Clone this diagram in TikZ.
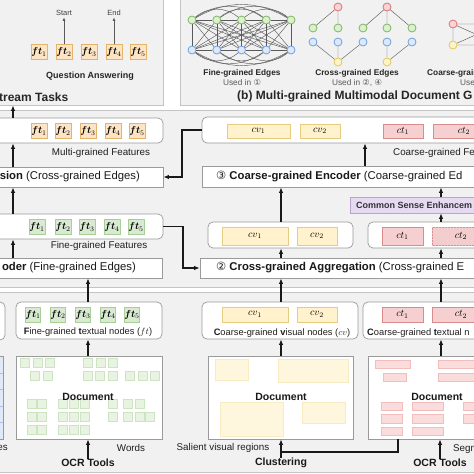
\documentclass[tikz,border=0pt]{standalone}
\usepackage{amsmath}
\usepackage{bm}
\usepackage{fontspec}
\setmainfont{Liberation Sans}
\newfontfamily\djv{DejaVu Sans}
\usetikzlibrary{arrows.meta,patterns}
\definecolor{panelbg}{HTML}{F1F1F1}
\definecolor{panelln}{HTML}{C4C4C4}
\definecolor{boxln}{HTML}{9A9A9A}
\definecolor{ftOfill}{HTML}{FCE4C4}
\definecolor{ftOline}{HTML}{E3B46A}
\definecolor{ftGfill}{HTML}{D9EAD3}
\definecolor{ftGline}{HTML}{A8CF95}
\definecolor{cvfill}{HTML}{FFF2CC}
\definecolor{cvline}{HTML}{E6CC80}
\definecolor{ctfill}{HTML}{F6D0D0}
\definecolor{ctline}{HTML}{D98C8C}
\definecolor{csefill}{HTML}{E6DAF2}
\definecolor{cseline}{HTML}{B9A3D3}
\definecolor{sqfill}{HTML}{E8F3E2}
\definecolor{sqline}{HTML}{CDE4C2}
\definecolor{yrfill}{HTML}{FFF7DD}
\definecolor{yrline}{HTML}{F7EBC3}
\definecolor{prfill}{HTML}{FADCDC}
\definecolor{prline}{HTML}{F2BDBD}
\definecolor{bdfill}{HTML}{DFE9F8}
\definecolor{bdline}{HTML}{A9C0E4}
\definecolor{gline}{HTML}{5A5A5A}
\definecolor{nGl}{HTML}{7DB85B}\definecolor{nGf}{HTML}{DCEFD2}
\definecolor{nBl}{HTML}{6FA0E0}\definecolor{nBf}{HTML}{DDE8F8}
\definecolor{nRl}{HTML}{E07070}\definecolor{nRf}{HTML}{F8D5D5}
\definecolor{nYl}{HTML}{E5C55A}\definecolor{nYf}{HTML}{FFF3C8}
\tikzset{
  panel/.style={draw=panelln, fill=panelbg, line width=0.7pt, inner sep=0pt},
  wbox/.style={draw=boxln, fill=white, line width=0.7pt, inner sep=0pt},
  cont/.style={draw=boxln, fill=white, rounded corners=5pt, line width=0.7pt, inner sep=0pt},
  ftO/.style={draw=ftOline, fill=ftOfill, line width=0.6pt, minimum width=16pt, minimum height=15pt, inner sep=0pt, font=\fontsize{10}{12}\selectfont},
  ftG/.style={ftO, draw=ftGline, fill=ftGfill},
  cvb/.style={draw=cvline, fill=cvfill, line width=0.6pt, inner sep=0pt, font=\fontsize{10}{12}\selectfont},
  ctb/.style={cvb, draw=ctline, fill=ctfill},
  ctbh/.style={ctb, postaction={pattern=north east lines, pattern color=ctline!45}},
  cseb/.style={draw=cseline, fill=csefill, line width=0.6pt, inner sep=0pt},
  bluedoc/.style={draw=boxln, fill=bdfill, line width=0.7pt, inner sep=0pt},
  arr/.style={-{Latex[length=5.5pt,width=4.5pt]}, line width=1.2pt, black!90},
  pline/.style={line width=1.2pt, black!90},
  garr/.style={-{Latex[length=3.5pt,width=3pt]}, line width=0.7pt, gline},
  lbl/.style={font=\fontsize{9.8}{11}\selectfont, inner sep=0pt, text=black!88},
  blbl/.style={font=\bfseries\fontsize{10.5}{12}\selectfont, inner sep=0pt, text=black!90},
  ttl/.style={font=\bfseries\fontsize{12}{14}\selectfont, inner sep=0pt, text=black!85},
  btxt/.style={font=\fontsize{11.3}{13}\selectfont, inner sep=0pt, text=black!90},
  small/.style={font=\fontsize{8.3}{10}\selectfont, inner sep=0pt},
  bsmall/.style={font=\bfseries\fontsize{8.3}{10}\selectfont, inner sep=0pt, text=black!85},
  gn/.style={circle, minimum size=8pt, inner sep=0pt, line width=0.8pt},
  gG/.style={gn, draw=nGl, fill=nGf},
  gB/.style={gn, draw=nBl, fill=nBf},
  gR/.style={gn, draw=nRl, fill=nRf},
  gY/.style={gn, draw=nYl, fill=nYf},
  edge/.style={gline, line width=0.45pt},
  sq/.style={draw=sqline, fill=sqfill, line width=0.5pt},
  yr/.style={draw=yrline, fill=yrfill, line width=0.5pt},
  pr/.style={draw=prline, fill=prfill, line width=0.5pt},
}
\newcommand{\bx}[7]{\node[#2, minimum width={(#5)-(#3)}, minimum height={(#6)-(#4)}] (#1) at ({((#3)+(#5))/2},{((#4)+(#6))/2}) {#7};}
\begin{document}
\begin{tikzpicture}[x=1pt,y=-1pt]
\useasboundingbox (0,0) rectangle (474,474);
\clip (0,0) rectangle (474,474);
\fill[white] (0,0) rectangle (474,474);
% panels
\bx{pa}{panel}{-8}{-8}{163}{105}{}
\bx{pb}{panel}{180}{-8}{490}{105}{}
\bx{pc}{panel}{-8}{110}{490}{287}{}
\bx{pd}{panel}{-8}{292}{490}{472}{}
% column coordinates
\coordinate (cA) at (13,0);
\coordinate (cB) at (88,0);
\coordinate (cC) at (281,0);
\coordinate (cD) at (441,0);
\coordinate (cE) at (365,0);
\coordinate (bxa) at (182,0);
\coordinate (bxb) at (183,0);
% ---------- panel a
\foreach \i/\x in {1/39,2/64,3/89,4/114,5/138} \node[ftO] (q\i) at (\x,52) {$\bm{ft}_{\i}$};
\node[inner sep=0pt, font=\fontsize{7.5}{9}\selectfont, text=black!75] (st) at (64,13) {Start};
\node[inner sep=0pt, font=\fontsize{7.5}{9}\selectfont, text=black!75] (en) at (114,13) {End};
\draw[garr] (q2.north) -- ([yshift=-1.5pt]st.south);
\draw[garr] (q4.north) -- ([yshift=-1.5pt]en.south);
\node[inner sep=0pt, font=\bfseries\fontsize{9}{11}\selectfont, text=black!85] (qa) at (90,76) {Question Answering};
\node[ttl, anchor=east] (ta) at (68.5,97) {stream Tasks};
% ---------- panel b
\foreach \i/\x in {1/192,2/216.75,3/241.5,4/266.25,5/291} {
  \node[gG] (fg\i) at (\x,20) {};
  \node[gB] (fb\i) at (\x,50) {};
}
\foreach \i in {1,...,5} \foreach \j in {1,...,5} \draw[edge] (fg\i) -- (fb\j);
\foreach \i/\j in {1/2,2/3,3/4,4/5} {\draw[edge] (fg\i) -- (fg\j); \draw[edge] (fb\i) -- (fb\j);}
\foreach \i/\j/\b in {1/3/40,2/4/40,3/5/40,1/4/35,2/5/35,1/5/30} {\draw[edge] (fg\i) to[bend left=\b] (fg\j); \draw[edge] (fb\i) to[bend right=\b] (fb\j);}
\node[gR] (cr1) at (338,7) {};
\node[gR] (cr2) at (387,7) {};
\foreach \i/\x in {1/313,2/338,3/363,4/387,5/412} {\node[gG] (cg\i) at (\x,28) {}; \node[gB] (cb\i) at (\x,42) {};}
\node[gY] (cy1) at (338,62) {};
\node[gY] (cy2) at (387,62) {};
\draw[edge] (cr1)--(cg1) (cr1)--(cg2) (cr2)--(cg3) (cr2)--(cg4) (cr2)--(cg5)
            (cy1)--(cb1) (cy1)--(cb2) (cy1)--(cb3) (cy2)--(cb4) (cy2)--(cb5);
\node[gR] (kr) at (453,24) {};
\node[gY] (ky) at (453,45) {};
\coordinate (kr2) at (500,24);
\coordinate (ky2) at (500,45);
\draw[edge] (kr)--(ky) (kr)--(kr2) (ky)--(ky2) (kr)--(ky2) (ky)--(kr2);
\node[bsmall] (l1) at (242,73) {Fine-grained Edges};
\node[small, text=black!65] (u1) at (242,82.5) {Used in {\djv ①}};
\node[bsmall] (l2) at (357,73) {Cross-grained Edges};
\node[small, text=black!65] (u2) at (357,82.5) {Used in {\djv ②}, {\djv ④}};
\node[bsmall, anchor=west] (l3) at (427,73) {Coarse-grain};
\node[small, text=black!65, anchor=west] (u3) at (460,82.5) {Used i};
\node[ttl, anchor=west] (tb) at (237,96) {(b) Multi-grained Multimodal Document G};
% ---------- panel c, left column
\bx{mgc}{cont}{-10}{118}{163}{143}{}
\foreach \i/\x in {1/39,2/63,3/88,4/113,5/137} \node[ftO] (m\i) at (\x,131) {$\bm{ft}_{\i}$};
\node[lbl] (mgl) at (101,153) {Multi-grained Features};
\bx{fus}{wbox}{-10}{167}{163}{187}{}
\node[btxt, anchor=east] (fust) at (140,177) {\textbf{sion} (Cross-grained Edges)};
\bx{fgc}{cont}{-10}{214}{163}{239}{}
\foreach \i/\x in {1/37,2/63,3/87,4/112,5/136} \node[ftG] (g\i) at (\x,227) {$\bm{ft}_{\i}$};
\node[lbl] (fgl) at (99,246) {Fine-grained Features};
\bx{enc1}{wbox}{-10}{258}{162}{278}{}
\node[btxt, anchor=east] (enc1t) at (136,268) {\textbf{oder} (Fine-grained Edges)};
% ---------- panel c, right column
\bx{ccc}{cont}{202}{117}{490}{143}{}
\bx{tcv1}{cvb}{227}{124}{290}{138}{$cv_1$}
\bx{tcv2}{cvb}{300}{124}{340}{138}{$cv_2$}
\bx{tct1}{ctb}{383}{124}{423}{138}{$ct_1$}
\bx{tct2}{ctb}{433}{124}{495}{138}{$ct_2$}
\node[lbl, anchor=west] (cgl) at (393,153) {Coarse-grained Fe};
\bx{enc3}{wbox}{202}{166}{490}{187}{}
\node[btxt, anchor=west] (enc3t) at (216,177) {{\djv ③} \textbf{Coarse-grained Encoder} (Coarse-grained Ed};
\bx{cse}{cseb}{350}{197}{490}{213}{}
\node[inner sep=0pt, font=\bfseries\fontsize{9}{11}\selectfont, text=black!80, anchor=west] (cset) at (356,205) {Common Sense Enhancem};
\bx{mcv}{cont}{208}{222}{353}{248}{}
\bx{mcv1}{cvb}{222}{227}{288}{245}{$cv_1$}
\bx{mcv2}{cvb}{297}{227}{337}{245}{$cv_2$}
\bx{mct}{cont}{368}{222}{490}{248}{}
\bx{mct1}{ctb}{382}{227}{423}{245}{$ct_1$}
\bx{mct2}{ctbh}{432}{227}{490}{245}{$ct_2$}
\bx{agg}{wbox}{200}{258}{490}{278}{}
\node[btxt, anchor=west] (aggt) at (216,268) {{\djv ②} \textbf{Cross-grained Aggregation} (Cross-grained E};
% ---------- panel d
\bx{lcont}{cont}{-30}{302}{5}{340}{}
\bx{ldoc}{bluedoc}{-30}{356}{3}{439}{}
\foreach \y in {373,389,406,422} \draw[bdline, line width=0.6pt] (-30,\y) -- (3,\y);
\bx{ftc}{cont}{16}{302}{162}{339}{}
\foreach \i/\x in {1/33,2/58,3/83,4/108,5/132} \node[ftG, minimum width=15pt] (b\i) at (\x,314.5) {$\bm{ft}_{\i}$};
\node[lbl, font=\fontsize{9.3}{11}\selectfont] (ftcl) at (88,332) {\textbf{F}ine-grained \textbf{t}extual nodes ($ft$)};
\bx{fdoc}{wbox}{16}{356}{162}{439}{}
\foreach \x in {25,38,50,88,101,113} \path[sq] (\x-4.5,358.5) rectangle ++(9,9);
\foreach \x in {35,48,88,100,113,130,143,155} \path[sq] (\x-4.5,371.5) rectangle ++(9,9);
\foreach \x in {32,42,63,74,85,113,128,140} \path[sq] (\x-4.5,399.5) rectangle ++(9,9);
\foreach \x in {32,42,63,74,85,113,128,140,150} \path[sq] (\x-4.5,412.5) rectangle ++(9,9);
\foreach \x in {32,42,63,74,85} \path[sq] (\x-4.5,425.5) rectangle ++(9,9);
\node[blbl] (fdt) at (88,397) {Document};
\bx{cvc}{cont}{202}{302}{358}{339}{}
\bx{bcv1}{cvb}{222}{307}{288}{322}{$cv_1$}
\bx{bcv2}{cvb}{297}{307}{337}{322}{$cv_2$}
\node[lbl, font=\fontsize{9.3}{11}\selectfont] (cvcl) at (282,333) {\textbf{C}oarse-grained \textbf{v}isual nodes ($cv$)};
\bx{ctc}{cont}{363}{302}{490}{339}{}
\bx{bct1}{ctb}{382}{307}{423}{322}{$ct_1$}
\bx{bct2}{ctb}{432}{307}{490}{322}{$ct_2$}
\node[lbl, font=\fontsize{9.3}{11}\selectfont, anchor=west] (ctcl) at (367,333) {\textbf{C}oarse-grained \textbf{t}extual n};
\bx{vdoc}{wbox}{208}{356}{353}{439}{}
\path[yr] (215,359) rectangle (248,380);
\path[yr] (278,359) rectangle (348,382);
\path[yr] (220,402) rectangle (283,436);
\path[yr] (302,402) rectangle (345,423);
\node[blbl] (vdt) at (281,397) {Document};
\bx{tdoc}{wbox}{368}{356}{490}{439}{}
\path[pr] (375,360) rectangle (410,368);
\path[pr] (438,360) rectangle (485,368);
\path[pr] (383,373) rectangle (406,381);
\path[pr] (438,373) rectangle (485,381);
\foreach \y in {402,414.5,427} {\path[pr] (381,\y) rectangle ++(21,8.5); \path[pr] (412,\y) rectangle ++(31,8.5);}
\foreach \y in {402,414.5} \path[pr] (463,\y) rectangle ++(25,8.5);
\node[blbl] (tdt) at (437,397) {Document};
\node[lbl, anchor=east] (esl) at (8,448) {es};
\node[lbl] (wl) at (131,448) {Words};
\node[blbl] (ocr1) at (88,463) {OCR Tools};
\node[lbl] (svl) at (223,448) {Salient visual regions};
\node[blbl] (clu) at (281,463) {Clustering};
\node[blbl] (ocr2) at (440,463) {OCR Tools};
\node[lbl, anchor=west] (sgl) at (453,449) {Segm};
% ---------- arrows
\draw[arr] (mgc.north -| cA) -- (pa.south -| cA);
\draw[arr] (fus.north -| cA) -- (mgc.south -| cA);
\draw[arr] (fgc.north -| cA) -- (fus.south -| cA);
\draw[arr] (enc1.north -| cA) -- (fgc.south -| cA);
\draw[arr] (ftc.north -| cB) -- (enc1.south -| cB);
\draw[arr] (fdoc.north -| cB) -- (ftc.south -| cB);
\draw[arr] (ocr1.north -| cB) -- (fdoc.south -| cB);
\draw[arr] (vdoc.north -| cC) -- (cvc.south -| cC);
\draw[arr] (cvc.north -| cC) -- (agg.south -| cC);
\draw[arr] (agg.north -| cC) -- (mcv.south -| cC);
\draw[arr] (mcv.north -| cC) -- (enc3.south -| cC);
\draw[arr] (enc3.north -| cE) -- (ccc.south -| cE);
\draw[arr] (tdoc.north -| cD) -- (ctc.south -| cD);
\draw[arr] (ctc.north -| cD) -- (agg.south -| cD);
\draw[arr] (agg.north -| cD) -- (mct.south -| cD);
\draw[arr] (mct.north -| cD) -- (cse.south -| cD);
\draw[arr] (cse.north -| cD) -- (enc3.south -| cD);
\draw[arr] (clu.north) -- (vdoc.south -| clu);
\draw[arr] (ocr2.north) -- (tdoc.south -| ocr2);
\coordinate (k1) at (398,452);
\coordinate (k2) at (281,452);
\draw[pline] (tdoc.south -| k1) -- (k1) -- (k2);
\draw[arr] (ccc.west) -| (bxa |- fus.east) -- (fus.east);
\draw[arr] (fgc.east) -| (bxb |- agg.west) -- (agg.west);
\end{tikzpicture}
\end{document}
